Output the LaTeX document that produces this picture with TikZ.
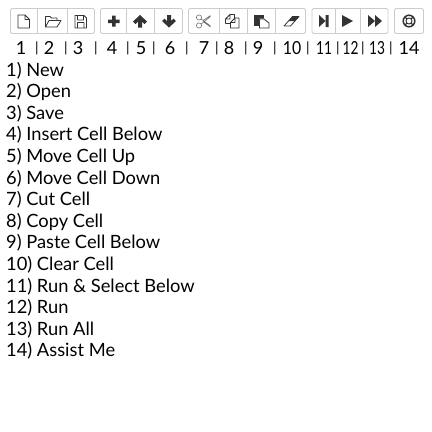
\documentclass[tikz,border=0pt]{standalone}
\usepackage{fontspec}
\usepackage{graphicx}
\setmainfont{Lato}
\definecolor{btnborder}{HTML}{CCCCCC}
\definecolor{icon}{HTML}{333333}
\tikzset{
  btngroup/.style={draw=btnborder,line width=0.8pt,rounded corners=1.5pt},
  divider/.style={draw=btnborder,line width=0.8pt},
  ico/.style={draw=icon,line width=0.8pt,line join=round},
  icof/.style={fill=icon,draw=none},
  num/.style={anchor=base,font=\fontsize{18}{18}\selectfont,text=black,inner sep=0pt},
  sep/.style={anchor=base,font=\fontsize{14}{14}\selectfont,text=black,inner sep=0pt},
  item/.style={anchor=base west,font=\fontsize{18.3}{18}\selectfont,text=black,inner sep=0pt}
}
\begin{document}
\begin{tikzpicture}[x=1pt,y=-1pt]
\useasboundingbox (0,0) rectangle (432,432);
\draw[btngroup] (10.5,8.5) rectangle (94.5,33.5);
\draw[btngroup] (100.5,8.5) rectangle (182.5,33.5);
\draw[btngroup] (188.5,8.5) rectangle (305.5,33.5);
\draw[btngroup] (312,8.5) rectangle (388,33.5);
\draw[btngroup] (394.5,8.5) rectangle (423.5,33.5);
\foreach \x in {37.5,67.5,126,154,219,247,275,335,360} \draw[divider] (\x,8.5) -- (\x,33.5);
% new
\draw[ico] (18,15) -- (25,15) -- (29.5,19.5) -- (29.5,28) -- (18,28) -- cycle (25,15) -- (25,19.5) -- (29.5,19.5);
% open
\draw[ico] (45.5,27) -- (45.5,16.5) -- (50,16.5) -- (51.5,18) -- (57,18) -- (57,20.5) (45.5,27) -- (49,20.5) -- (61,20.5) -- (57,27) -- cycle;
% save
\draw[ico] (75,15.5) -- (84,15.5) -- (86.5,18) -- (86.5,28) -- (75,28) -- cycle (77.5,15.5) rectangle (83.5,20) (77.5,28) rectangle (84,22.5);
% plus
\fill[icof] (112,15.5) rectangle (115.5,26.5) (108,19.5) rectangle (119.5,23);
% up
\fill[icof] (140,15) -- (147,21.5) -- (144.5,24) -- (142,21.5) -- (142,27.5) -- (138,27.5) -- (138,21.5) -- (135.5,24) -- (133,21.5) -- cycle;
% down
\fill[icof] (169,27.5) -- (176,21) -- (173.5,18.5) -- (171,21) -- (171,15) -- (167,15) -- (167,21) -- (164.5,18.5) -- (162,21) -- cycle;
% scissors
\draw[draw=icon!70,line width=0.6pt] (199,17.5) circle (2.6) (199,25.5) circle (2.6) (201.2,19) -- (210.5,26) (201.2,24) -- (210.5,16.5) (203,21.5) -- (210.5,27) (203,20.5) -- (210.5,15.5);
% copy
\draw[ico] (225.5,23.5) -- (225.5,19) -- (230,14.5) -- (234.5,14.5) -- (234.5,18) (225.5,23.5) -- (230,23.5) (230,14.5) -- (230,19) -- (225.5,19) (230.5,28) -- (230.5,22.5) -- (235,18) -- (239,18) -- (239,28) -- cycle (235,18) -- (235,22.5) -- (230.5,22.5);
% paste
\fill[icof] (254,14.5) rectangle (264,26);
\fill[white] (259,18.5) -- (264,18.5) -- (269.5,23) -- (269.5,29) -- (259,29) -- cycle;
\draw[ico] (259.5,19) -- (264,19) -- (269,23) -- (269,28) -- (259.5,28) -- cycle;
% eraser
\fill[icof] (288.5,21) -- (293,16.5) -- (299,16.5) -- (294.5,21) -- cycle;
\draw[ico] (284,26) -- (292.5,16.5) -- (299,16.5) -- (290.5,26) -- cycle;
% run select
\fill[icof] (319,15) -- (319,27) -- (325.5,21) -- cycle (325.5,15) rectangle (328.5,27);
% run
\fill[icof] (342,15) -- (353,21) -- (342,27) -- cycle;
% run all
\fill[icof] (368,15) -- (375,21) -- (368,27) -- cycle (375,15) -- (382,21) -- (375,27) -- cycle;
% assist
\draw[icon,line width=1.5pt] (409,21) circle (5.8);
\draw[icon,line width=0.9pt] (409,21) circle (3);
\foreach \a in {45,135,225,315} \draw[icon,line width=1.3pt] (409,21) ++(\a:3) -- ++(\a:3);
% number row
\foreach \t/\x/\n in {1/21/a,2/49/b,3/78/c,4/112/d,5/141/e,6/170/f,7/204/g,8/229/h,9/258/i,14/409/n}
  \node[num] (n\n) at (\x,54) {\t};
\node[num] (nj) at (292,54) {\scalebox{0.88}[1]{10}};
\foreach \t/\x/\n in {11/324/k,12/350.5/l,13/377/m}
  \node[num] (n\n) at (\x,54) {\scalebox{0.76}[1]{\t}};
\foreach \x in {37,66,96,128,154,187,217,246,275,308,338,363,391}
  \node[sep] (s\x) at (\x,52.5) {|};
% list
\foreach \t [count=\i] in {1) New,2) Open,3) Save,4) Insert Cell Below,5) Move Cell Up,6) Move Cell Down,7) Cut Cell,8) Copy Cell,9) Paste Cell Below,10) Clear Cell,11) Run \& Select Below,12) Run,13) Run All,14) Assist Me}
  \node[item] (t\i) at (6,{76+(\i-1)*21.6}) {\t};
\end{tikzpicture}
\end{document}
